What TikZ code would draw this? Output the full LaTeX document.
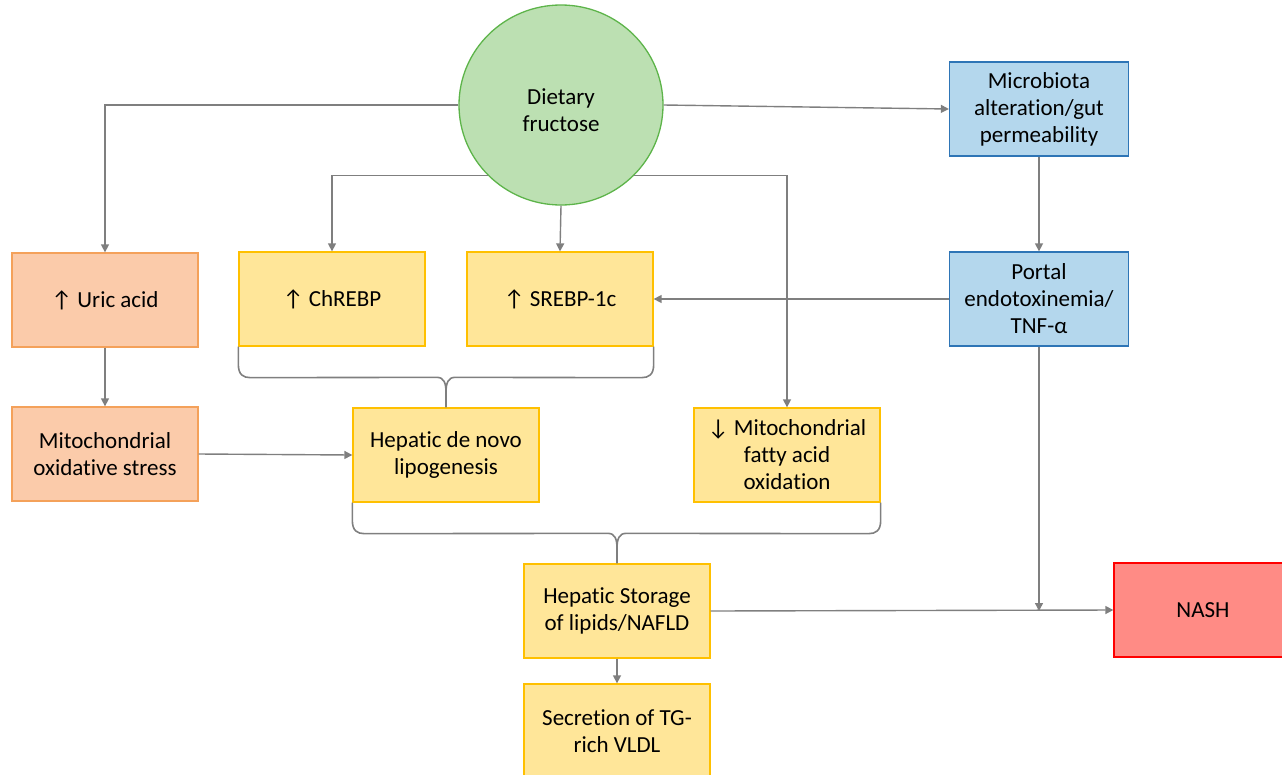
\documentclass[tikz,border=0pt]{standalone}
\usepackage{fontspec}
\setmainfont{Carlito}[Ligatures=NoCommon]
\usetikzlibrary{arrows.meta,shapes.geometric,calc}
\definecolor{peachF}{HTML}{FBCBAA}
\definecolor{peachD}{HTML}{F4A15A}
\definecolor{yelF}{HTML}{FFE699}
\definecolor{yelD}{HTML}{FFC000}
\definecolor{bluF}{HTML}{B4D7ED}
\definecolor{bluD}{HTML}{2E75B6}
\definecolor{grnF}{HTML}{BCE0B2}
\definecolor{grnD}{HTML}{5DB44A}
\definecolor{redF}{HTML}{FF8B85}
\definecolor{redD}{HTML}{FF0000}
\definecolor{lineC}{HTML}{7F7F7F}
\tikzset{
  txt/.style={align=center, font=\fontsize{23}{27}\selectfont},
  box/.style={txt, rectangle, minimum width=186pt, minimum height=94pt, line width=1.3pt, inner sep=2pt},
  peach/.style={box, fill=peachF, draw=peachD},
  yel/.style={box, fill=yelF, draw=yelD},
  blu/.style={box, fill=bluF, draw=bluD, minimum width=179pt},
  conn/.style={draw=lineC, line width=1.4pt, -{Triangle[length=8pt,width=8pt]}},
  brc/.style={draw=lineC, line width=1.6pt}
}
\begin{document}
\begin{tikzpicture}[x=1pt,y=-1pt]
\useasboundingbox (0,0) rectangle (1282,774);
% nodes
\node[ellipse, minimum width=204pt, minimum height=200pt, fill=grnF, draw=grnD, line width=1.3pt, inner sep=0pt] (fruc) at (561,105) {};
\node[txt] (frucT) at (561,110) {Dietary\\fructose};
\node[peach] (uric) at (105,300) {↑ Uric acid};
\node[peach] (mitox) at (105,454) {Mitochondrial\\oxidative stress};
\node[yel] (chrebp) at (332,299) {↑ ChREBP};
\node[yel] (srebp) at (560,299) {↑ SREBP-1c};
\node[yel] (denovo) at (446,455) {Hepatic de novo\\lipogenesis};
\node[yel] (mfao) at (787,455) {↓ Mitochondrial\\fatty acid\\oxidation};
\node[blu] (micro) at (1039,109) {Microbiota\\alteration/gut\\permeability};
\node[blu] (portal) at (1039,299) {Portal\\endotoxinemia/\\TNF-α};
\node[yel] (storage) at (617,611) {Hepatic Storage\\of lipids/NAFLD};
\node[yel] (vldl) at (617,731) {Secretion of TG-\\rich VLDL};
\node[box, fill=redF, draw=redD, minimum width=178pt] (nash) at (1203,610) {NASH};
% connectors from fructose
\draw[conn] (fruc.west) -| (uric.north);
\draw[conn] (fruc.east) -- (micro.west);
\draw[conn] (fruc.224) -| (chrebp.north);
\draw[conn] (fruc.-44) -| (mfao.north);
\draw[conn] (fruc.south) -- (srebp.north);
% other arrows
\draw[conn] (uric.south) -- (mitox.north);
\draw[conn] (mitox.east) -- (denovo.west);
\draw[conn] (micro.south) -- (portal.north);
\draw[conn] (portal.west) -- (srebp.east);
\coordinate (meet) at (portal.south |- storage.east);
\draw[conn] (portal.south) -- (meet);
\draw[conn] (storage.east) -- (nash.west);
\draw[conn] (storage.south) -- (vldl.north);
% brace 1
\draw[brc] (chrebp.south west) -- ++(0,18) .. controls +(0,10) and +(-7,0) .. ++(12,13)
  -- ($(denovo.north)+(-9,-30)$) .. controls +(7,0) and +(0,-9) .. ($(denovo.north)+(0,-15)$) -- (denovo.north);
\draw[brc] ($(denovo.north)+(0,-15)$) .. controls +(0,-9) and +(-7,0) .. ($(denovo.north)+(9,-30)$)
  -- ($(srebp.south east)+(-12,31)$) .. controls +(7,0) and +(0,10) .. ($(srebp.south east)+(0,18)$) -- (srebp.south east);
% brace 2
\draw[brc] (denovo.south west) -- ++(0,18) .. controls +(0,10) and +(-7,0) .. ++(12,13)
  -- ($(storage.north)+(-9,-30)$) .. controls +(7,0) and +(0,-9) .. ($(storage.north)+(0,-15)$) -- (storage.north);
\draw[brc] ($(storage.north)+(0,-15)$) .. controls +(0,-9) and +(-7,0) .. ($(storage.north)+(9,-30)$)
  -- ($(mfao.south east)+(-12,31)$) .. controls +(7,0) and +(0,10) .. ($(mfao.south east)+(0,18)$) -- (mfao.south east);
\end{tikzpicture}
\end{document}
